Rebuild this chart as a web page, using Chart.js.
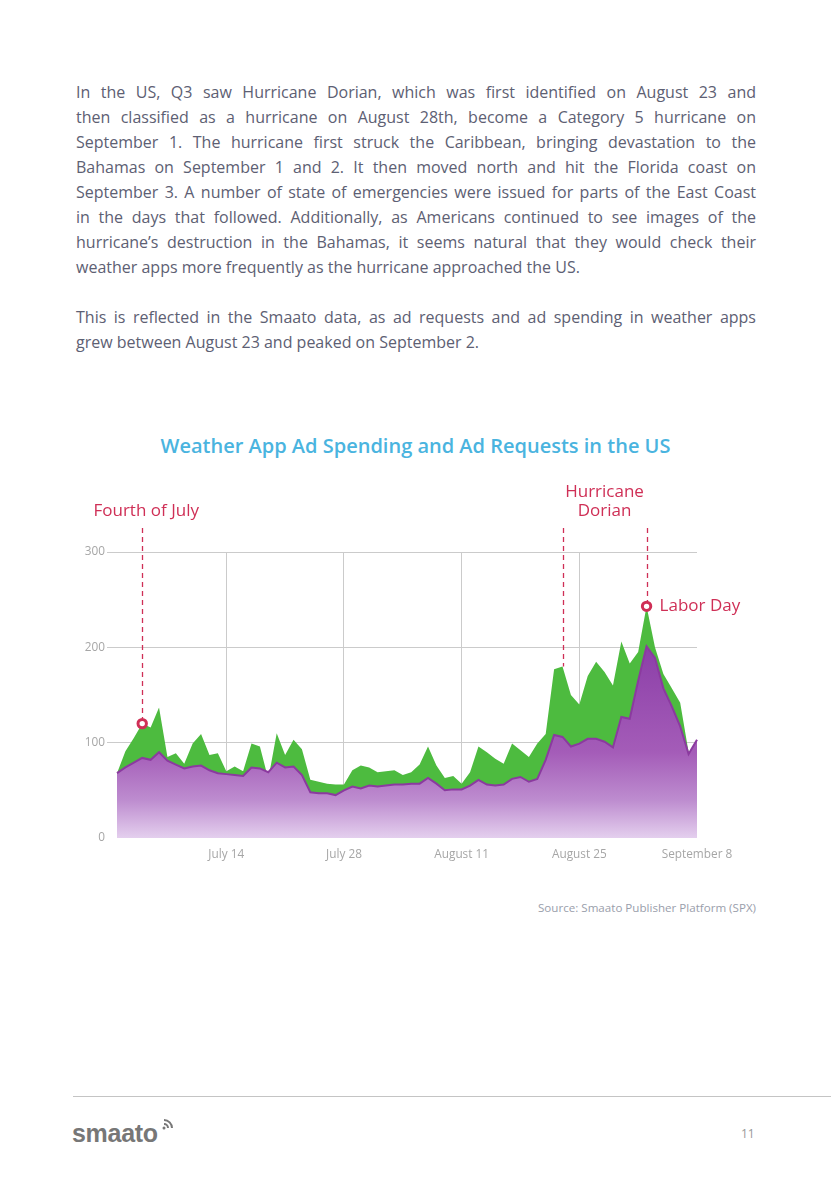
<!DOCTYPE html>
<html>
<head>
<meta charset="utf-8">
<script src="https://cdn.jsdelivr.net/npm/chart.js@4.4.1/dist/chart.umd.min.js"></script>
<style>
html,body{margin:0;padding:0;background:#fff}
#page{position:relative;width:831px;height:1181px;overflow:hidden;font-family:'Open Sans',sans-serif}
.txt{position:absolute;left:76px;width:680px;font-size:16px;line-height:25px;color:#5d6073}
.txt div{text-align:justify;text-align-last:justify;white-space:nowrap}
.txt div.last{text-align-last:left}
#title{position:absolute;left:0;width:831px;top:436px;text-align:center;font-size:20px;line-height:20px;font-weight:600;color:#4ab4df}
#chartBox{position:absolute;left:60px;top:470px;width:700px;height:410px}
#source{position:absolute;right:75px;top:901px;font-size:11.6px;line-height:14px;color:#9a9eab}
#rule{position:absolute;left:73px;right:0;top:1096px;border-top:1px solid #c4c4c4}
#logo{position:absolute;left:72px;top:1119px;font-family:'Liberation Sans',Arial,sans-serif;font-weight:bold;font-size:25px;line-height:28px;color:#777;letter-spacing:-0.3px}
#logo svg{position:absolute;left:89px;top:-2px}
#pageNo{position:absolute;left:741px;top:1127px;font-size:12px;line-height:14px;color:#9a9a9a}
</style>
</head>
<body>
<div id="page">

<div class="txt" style="top:80px">
<div>In the US, Q3 saw Hurricane Dorian, which was first identified on August 23 and</div>
<div>then classified as a hurricane on August 28th, become a Category 5 hurricane on</div>
<div>September 1. The hurricane first struck the Caribbean, bringing devastation to the</div>
<div>Bahamas on September 1 and 2. It then moved north and hit the Florida coast on</div>
<div>September 3. A number of state of emergencies were issued for parts of the East Coast</div>
<div>in the days that followed. Additionally, as Americans continued to see images of the</div>
<div>hurricane’s destruction in the Bahamas, it seems natural that they would check their</div>
<div class="last">weather apps more frequently as the hurricane approached the US.</div>
<div class="last">&nbsp;</div>
<div>This is reflected in the Smaato data, as ad requests and ad spending in weather apps</div>
<div class="last">grew between August 23 and peaked on September 2.</div>
</div>

<div id="title">Weather App Ad Spending and Ad Requests in the US</div>

<div id="chartBox"><canvas id="chart" width="700" height="410"></canvas></div>

<div id="source">Source: Smaato Publisher Platform (SPX)</div>

<div id="rule"></div>
<div id="logo">smaato<svg width="14" height="14" viewBox="0 0 14 14"><g fill="none" stroke="#777" stroke-width="2"><circle cx="3" cy="11" r="1.5" fill="#777" stroke="none"/><path d="M3 7a4 4 0 0 1 4 4"/><path d="M3 3a8 8 0 0 1 8 8"/></g></svg></div>
<div id="pageNo">11</div>

</div>

<script>
const days=["July 1","July 2","July 3","July 4","July 5","July 6","July 7","July 8","July 9","July 10",
"July 11","July 12","July 13","July 14","July 15","July 16","July 17","July 18","July 19","July 20",
"July 21","July 22","July 23","July 24","July 25","July 26","July 27","July 28","July 29","July 30",
"July 31","August 1","August 2","August 3","August 4","August 5","August 6","August 7","August 8","August 9",
"August 10","August 11","August 12","August 13","August 14","August 15","August 16","August 17","August 18","August 19",
"August 20","August 21","August 22","August 23","August 24","August 25","August 26","August 27","August 28","August 29",
"August 30","August 31","September 1","September 2","September 3","September 4","September 5","September 6","September 7","September 8"]

// green series
const adRequests=[68,91,105,120,116,137,85,89,78,99,
109,87,89,70,75,70,99,96,62,110,
87,103,93,61,59,57,56,56,71,76,
74,69,70,71,66,69,77,96,76,63,
65,57,69,96,90,83,78,99,92,85,
99,109,177,180,150,140,170,185,174,160,
206,183,195,243,200,172,157,142,90,82]

// purple series
const adSpending=[68,74,79,84,82,90,81,77,73,75,
76,71,68,67,66,65,74,73,69,79,
74,75,66,48,47,47,45,50,54,52,
55,54,55,56,56,57,57,63,57,50,
51,51,55,61,56,55,56,62,64,59,
62,82,108,106,96,99,104,104,101,95,
127,125,165,201,189,157,138,117,88,103]

const tickDays=["July 14","July 28","August 11","August 25","September 8"]
const gridDays=["July 14","July 28","August 11","August 25"]
const yTicks=[0,100,200,300]

const eventRed="#cf2f56"

// dashed event lines, markers and their labels
const eventsPlugin={
id:"events",
afterDatasetsDraw(chart){
const c=chart.ctx
const x=chart.scales.x, y=chart.scales.y
const top=chart.chartArea.top
const iJuly4=days.indexOf("July 4")
const iDorian=days.indexOf("August 23")
const iLabor=days.indexOf("September 2")
const x4=x.getPixelForValue(iJuly4), xd=x.getPixelForValue(iDorian), xl=x.getPixelForValue(iLabor)
const y4=y.getPixelForValue(adRequests[iJuly4])
const yd=y.getPixelForValue(adRequests[iDorian])
const yl=y.getPixelForValue(adRequests[iLabor])
const r=4.2

c.save()
c.strokeStyle=eventRed
c.lineWidth=1.3
c.setLineDash([5,4])
;[[x4,y4-r-1],[xd,yd],[xl,yl-r-1]].forEach(p=>{
c.beginPath()
c.moveTo(Math.round(p[0])+0.5,top-24)
c.lineTo(Math.round(p[0])+0.5,p[1])
c.stroke()
})
c.setLineDash([])

;[[x4,y4],[xl,yl]].forEach(p=>{
c.beginPath()
c.arc(p[0],p[1],r,0,Math.PI*2)
c.fillStyle="#fff"
c.fill()
c.lineWidth=3
c.strokeStyle=eventRed
c.stroke()
})

c.fillStyle=eventRed
c.font="17px 'Open Sans'"
c.textBaseline="alphabetic"
c.textAlign="center"
c.fillText("Fourth of July",x4+4,top-36)
c.fillText("Hurricane",(xd+xl)/2,top-55.5)
c.fillText("Dorian",(xd+xl)/2,top-36)
c.textAlign="left"
c.fillText("Labor Day",xl+13,yl+4.5)
c.restore()
}
}

Chart.defaults.font.family="'Open Sans', sans-serif"

new Chart(document.getElementById("chart"),{
type:"line",
data:{
labels:days,
datasets:[
{
label:"Ad Spending",
data:adSpending,
order:1,
fill:"origin",
borderColor:"#8b3a9f",
borderWidth:2,
pointRadius:0,
tension:0,
backgroundColor:ctx=>{
const ch=ctx.chart, a=ch.chartArea
if(!a) return "#a055b4"
const g=ch.ctx.createLinearGradient(0,ch.scales.y.getPixelForValue(200),0,a.bottom)
g.addColorStop(0,"#8c3fa8")
g.addColorStop(0.55,"#a45cb8")
g.addColorStop(0.8,"#bd8ccf")
g.addColorStop(1,"#e4cfee")
return g
}
},
{
label:"Ad Requests",
data:adRequests,
order:2,
fill:"origin",
borderWidth:0,
borderColor:"#4dbb3f",
backgroundColor:"#4dbb3f",
pointRadius:0,
tension:0
}
]
},
options:{
responsive:false,
animation:false,
devicePixelRatio:1,
layout:{padding:{top:82,right:63,left:0,bottom:0}},
plugins:{legend:{display:false},tooltip:{enabled:false}},
scales:{
x:{
offset:false,
border:{display:false},
grid:{
drawTicks:false,
color:ctx=>gridDays.includes(days[ctx.index]) ? "#cbcbcb" : "rgba(0,0,0,0)"
},
ticks:{
autoSkip:false,
maxRotation:0,
padding:10,
color:"#a6a6a6",
font:{size:11.8},
callback:(v,i)=>tickDays.includes(days[i]) ? days[i] : ""
},
afterFit:s=>{s.height=42}
},
y:{
min:0,
max:300,
border:{display:false},
grid:{
tickLength:10,
color:ctx=>ctx.tick && ctx.tick.value===0 ? "rgba(0,0,0,0)" : "#cbcbcb"
},
afterBuildTicks:s=>{s.ticks=yTicks.map(v=>({value:v}))},
ticks:{
padding:2,
color:"#a6a6a6",
font:{size:11.8}
},
afterFit:s=>{s.width=57}
}
}
},
plugins:[eventsPlugin]
})
</script>
</body>
</html>
